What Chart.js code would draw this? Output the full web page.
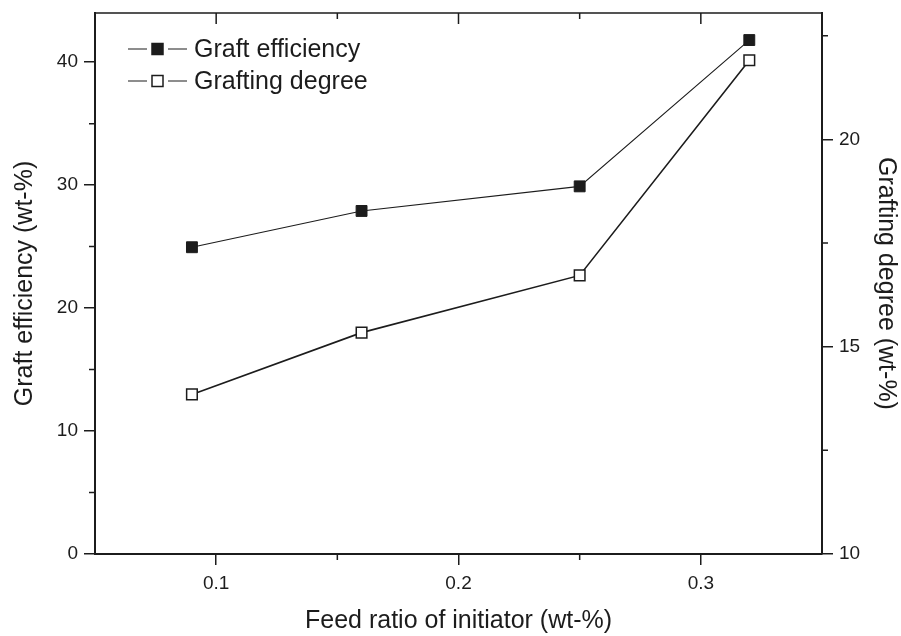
<!DOCTYPE html>
<html>
<head>
<meta charset="utf-8">
<script src="https://cdn.jsdelivr.net/npm/chart.js@4"></script>
<style>
  body { margin: 0; background: #fff; }
  #wrap { width: 901px; height: 636px; }
</style>
</head>
<body>
<div id="wrap"><canvas id="chart" width="901" height="636"></canvas></div>
<script>
const feedRatio = [0.09, 0.16, 0.25, 0.32];
const graftEfficiency = [24.95, 27.9, 29.9, 41.8];
const graftingDegree = [13.85, 15.34, 16.72, 21.91];

const xTicks = [0.1, 0.2, 0.3];
const xMinor = [0.15, 0.25];
const leftTicks = [0, 10, 20, 30, 40];
const leftMinor = [5, 15, 25, 35];
const rightTicks = [10, 15, 20];
const rightMinor = [12.5, 17.5, 22.5];

const ink = '#1c1c1c';
const family = '"Liberation Sans", Arial, Helvetica, sans-serif';

const toPoints = (xs, ys) => xs.map((x, i) => ({ x: x, y: ys[i] }));
const fixTicks = arr => scale => { scale.ticks = arr.map(v => ({ value: v })); };
// fixed axis sizes so the plot box lands where the original has it
const fitY = w => s => { s.width = w; s.paddingTop = 0; s.paddingBottom = 0; };
const fitX = h => s => { s.height = h; s.paddingLeft = 0; s.paddingRight = 0; };

// frame, minor ticks, top ticks and the legend (line-marker-line style)
const frameTicks = {
  id: 'frameTicks',
  afterDraw(chart) {
    const { ctx, chartArea: a, scales } = chart;
    ctx.save();
    ctx.strokeStyle = ink;
    ctx.lineWidth = 1.5;
    ctx.beginPath();
    ctx.moveTo(a.left, a.top);
    ctx.lineTo(a.right, a.top);
    xTicks.forEach(v => {
      const px = scales.x.getPixelForValue(v);
      ctx.moveTo(px, a.top);
      ctx.lineTo(px, a.top + 11);
    });
    xMinor.forEach(v => {
      const px = scales.x.getPixelForValue(v);
      ctx.moveTo(px, a.top);
      ctx.lineTo(px, a.top + 6);
      ctx.moveTo(px, a.bottom);
      ctx.lineTo(px, a.bottom + 6);
    });
    leftMinor.forEach(v => {
      const py = scales.y.getPixelForValue(v);
      ctx.moveTo(a.left - 6, py);
      ctx.lineTo(a.left, py);
    });
    rightMinor.forEach(v => {
      const py = scales.y2.getPixelForValue(v);
      ctx.moveTo(a.right, py);
      ctx.lineTo(a.right + 6, py);
    });
    ctx.stroke();

    // legend
    const rows = [
      { label: 'Graft efficiency', fill: ink, y: a.top + 36 },
      { label: 'Grafting degree', fill: '#fff', y: a.top + 68 }
    ];
    const lx = a.left + 33;
    ctx.font = '25px ' + family;
    ctx.textBaseline = 'middle';
    ctx.fillStyle = ink;
    rows.forEach(r => {
      ctx.lineWidth = 1.2;
      ctx.beginPath();
      ctx.moveTo(lx, r.y); ctx.lineTo(lx + 19, r.y);
      ctx.moveTo(lx + 40, r.y); ctx.lineTo(lx + 59, r.y);
      ctx.stroke();
      ctx.fillStyle = r.fill;
      ctx.fillRect(lx + 24, r.y - 5.5, 11, 11);
      ctx.lineWidth = 1.5;
      ctx.strokeRect(lx + 24, r.y - 5.5, 11, 11);
      ctx.fillStyle = ink;
      ctx.fillText(r.label, lx + 66, r.y + 1);
    });
    ctx.restore();
  }
};

new Chart(document.getElementById('chart'), {
  type: 'line',
  data: {
    datasets: [
      {
        label: 'Graft efficiency',
        data: toPoints(feedRatio, graftEfficiency),
        yAxisID: 'y',
        borderColor: ink,
        borderWidth: 1.1,
        pointStyle: 'rect',
        pointRadius: 7.7,
        pointBackgroundColor: ink,
        pointBorderColor: ink,
        pointBorderWidth: 1,
        tension: 0,
        fill: false
      },
      {
        label: 'Grafting degree',
        data: toPoints(feedRatio, graftingDegree),
        yAxisID: 'y2',
        borderColor: ink,
        borderWidth: 1.6,
        pointStyle: 'rect',
        pointRadius: 7.5,
        pointBackgroundColor: '#fff',
        pointBorderColor: ink,
        pointBorderWidth: 1.5,
        tension: 0,
        fill: false
      }
    ]
  },
  options: {
    responsive: false,
    animation: false,
    layout: { padding: { top: 13, left: 0, right: 0, bottom: 0 } },
    plugins: {
      legend: { display: false },
      tooltip: { enabled: false }
    },
    scales: {
      x: {
        type: 'linear',
        position: 'bottom',
        min: 0.05,
        max: 0.35,
        afterBuildTicks: fixTicks(xTicks),
        afterFit: fitX(82),
        grid: { drawOnChartArea: false, tickLength: 11, color: ink, lineWidth: 1.5 },
        border: { color: ink, width: 2 },
        ticks: {
          color: ink,
          padding: 7,
          font: { family: family, size: 19 },
          callback: v => String(v)
        },
        title: {
          display: true,
          text: 'Feed ratio of initiator (wt-%)',
          color: ink,
          font: { family: family, size: 25 },
          padding: { top: 0, bottom: 0 }
        }
      },
      y: {
        type: 'linear',
        position: 'left',
        min: 0,
        max: 44,
        afterBuildTicks: fixTicks(leftTicks),
        afterFit: fitY(95),
        grid: { drawOnChartArea: false, tickLength: 11, color: ink, lineWidth: 1.5 },
        border: { color: ink, width: 2 },
        ticks: {
          color: ink,
          padding: 6,
          font: { family: family, size: 19 }
        },
        title: {
          display: true,
          text: 'Graft efficiency (wt-%)',
          color: ink,
          font: { family: family, size: 25 },
          padding: { top: 10, bottom: 0 }
        }
      },
      y2: {
        type: 'linear',
        position: 'right',
        min: 10,
        max: 23.05,
        afterBuildTicks: fixTicks(rightTicks),
        afterFit: fitY(79),
        grid: { drawOnChartArea: false, tickLength: 11, color: ink, lineWidth: 1.5 },
        border: { color: ink, width: 2 },
        ticks: {
          color: ink,
          padding: 6,
          font: { family: family, size: 19 }
        },
        title: {
          display: true,
          text: 'Grafting degree (wt-%)',
          color: ink,
          font: { family: family, size: 25 },
          padding: { top: 0, bottom: 0 }
        }
      }
    }
  },
  plugins: [frameTicks]
});
</script>
</body>
</html>
